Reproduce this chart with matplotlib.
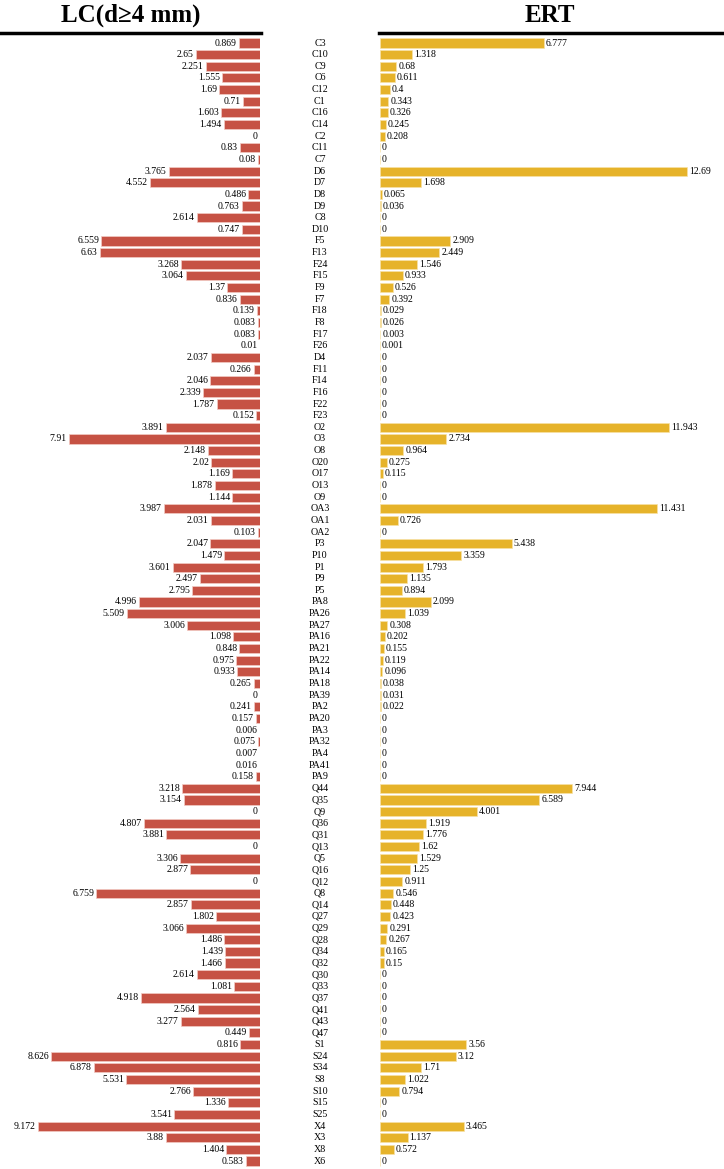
import numpy as np
import matplotlib
matplotlib.use('Agg')
import matplotlib.pyplot as plt
import matplotlib.transforms as mtransforms

plt.rcParams['font.family'] = ['Liberation Serif', 'DejaVu Serif']

#%% data
sites = ['C3', 'C10', 'C9', 'C6', 'C12', 'C1', 'C16', 'C14', 'C2', 'C11', 'C7',
         'D6', 'D7', 'D8', 'D9', 'C8', 'D10',
         'F5', 'F13', 'F24', 'F15', 'F9', 'F7', 'F18', 'F8', 'F17', 'F26',
         'D4', 'F11', 'F14', 'F16', 'F22', 'F23',
         'O2', 'O3', 'O8', 'O20', 'O17', 'O13', 'O9',
         'OA3', 'OA1', 'OA2',
         'P3', 'P10', 'P1', 'P9', 'P5',
         'PA8', 'PA26', 'PA27', 'PA16', 'PA21', 'PA22', 'PA14', 'PA18', 'PA39',
         'PA2', 'PA20', 'PA3', 'PA32', 'PA4', 'PA41', 'PA9',
         'Q44', 'Q35', 'Q9', 'Q36', 'Q31', 'Q13', 'Q5', 'Q16', 'Q12', 'Q8', 'Q14',
         'Q27', 'Q29', 'Q28', 'Q34', 'Q32', 'Q30', 'Q33', 'Q37', 'Q41', 'Q43', 'Q47',
         'S1', 'S24', 'S34', 'S8', 'S10', 'S15', 'S25',
         'X4', 'X3', 'X8', 'X6']

lc = [0.869, 2.65, 2.251, 1.555, 1.69, 0.71, 1.603, 1.494, 0, 0.83, 0.08,
      3.765, 4.552, 0.486, 0.763, 2.614, 0.747,
      6.559, 6.63, 3.268, 3.064, 1.37, 0.836, 0.139, 0.083, 0.083, 0.01,
      2.037, 0.266, 2.046, 2.339, 1.787, 0.152,
      3.891, 7.91, 2.148, 2.02, 1.169, 1.878, 1.144,
      3.987, 2.031, 0.103,
      2.047, 1.479, 3.601, 2.497, 2.795,
      4.996, 5.509, 3.006, 1.098, 0.848, 0.975, 0.933, 0.265, 0,
      0.241, 0.157, 0.006, 0.075, 0.007, 0.016, 0.158,
      3.218, 3.154, 0, 4.807, 3.881, 0, 3.306, 2.877, 0, 6.759, 2.857,
      1.802, 3.066, 1.486, 1.439, 1.466, 2.614, 1.081, 4.918, 2.564, 3.277, 0.449,
      0.816, 8.626, 6.878, 5.531, 2.766, 1.336, 3.541,
      9.172, 3.88, 1.404, 0.583]

ert = [6.777, 1.318, 0.68, 0.611, 0.4, 0.343, 0.326, 0.245, 0.208, 0, 0,
       12.69, 1.698, 0.065, 0.036, 0, 0,
       2.909, 2.449, 1.546, 0.933, 0.526, 0.392, 0.029, 0.026, 0.003, 0.001,
       0, 0, 0, 0, 0, 0,
       11.943, 2.734, 0.964, 0.275, 0.115, 0, 0,
       11.431, 0.726, 0,
       5.438, 3.359, 1.793, 1.135, 0.894,
       2.099, 1.039, 0.308, 0.202, 0.155, 0.119, 0.096, 0.038, 0.031,
       0.022, 0, 0, 0, 0, 0, 0,
       7.944, 6.589, 4.001, 1.919, 1.776, 1.62, 1.529, 1.25, 0.911, 0.546, 0.448,
       0.423, 0.291, 0.267, 0.165, 0.15, 0, 0, 0, 0, 0, 0,
       3.56, 3.12, 1.71, 1.022, 0.794, 0, 0,
       3.465, 1.137, 0.572, 0]

#%% figure
W, H = 724, 1169
fig = plt.figure(figsize=(W/100, H/100), dpi=100)

y = np.arange(len(sites))
scale = 24.2  # px per unit

top, bot = 37, 1167
nrow = len(sites)
step = (1161 - 43) / (nrow - 1)
ylo = -(43 - top) / step
yhi = (nrow - 1) + (bot - 1161) / step

axL = fig.add_axes([0, 1 - bot/H, 260/W, (bot - top)/H])
axR = fig.add_axes([380/W, 1 - bot/H, 342/W, (bot - top)/H])

axL.barh(y, lc, height=0.78, color='#c65244', edgecolor='#f3cbc4', linewidth=0.5)
axR.barh(y, ert, height=0.78, color='#e6b32a', edgecolor='#f7e2a6', linewidth=0.5)

axL.set_xlim(260/scale, 0)
axR.set_xlim(0, 342/scale)
for ax in (axL, axR):
    ax.set_ylim(yhi, ylo)
    ax.axis('off')

for i in range(nrow):
    axL.annotate('{:g}'.format(lc[i]), (lc[i], i), xytext=(-1.5, 0),
                 textcoords='offset points', ha='right', va='center', fontsize=7)
    axR.annotate('{:g}'.format(ert[i]), (ert[i], i), xytext=(1.5, 0),
                 textcoords='offset points', ha='left', va='center', fontsize=7)

trans = mtransforms.blended_transform_factory(fig.transFigure, axL.transData)
for i, s in enumerate(sites):
    axL.text(320/W, i, s, transform=trans, ha='center', va='center',
             fontsize=7.2, clip_on=False)

# headers
fig.add_artist(plt.Line2D([0/W, 261/W], [1 - 33/H, 1 - 33/H], color='k', lw=2.5))
fig.add_artist(plt.Line2D([379/W, 722/W], [1 - 33/H, 1 - 33/H], color='k', lw=2.5))
fig.text(131/W, 1 - 15/H, 'LC(d\u22654 mm)', ha='center', va='center',
         fontsize=18, fontweight='bold')
fig.text(550/W, 1 - 15/H, 'ERT', ha='center', va='center',
         fontsize=18, fontweight='bold')

fig.savefig('out.png', dpi=100)
